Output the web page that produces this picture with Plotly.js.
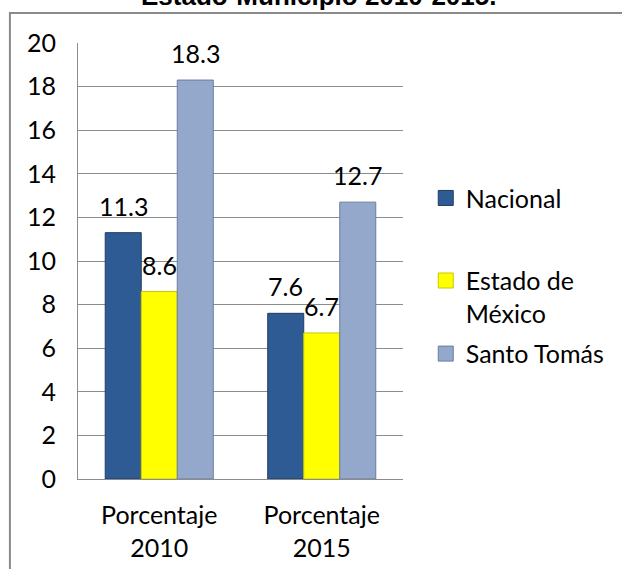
<!DOCTYPE html>
<html>
<head>
<meta charset="utf-8">
<script src="https://cdn.plot.ly/plotly-3.0.1.min.js"></script>
<style>
  html, body { margin: 0; padding: 0; background: #ffffff; }
  #chart { width: 622px; height: 569px; }
</style>
</head>
<body>
<div id="chart"></div>
<script>
// ---- data ----
const categories = ["Porcentaje<br>2010", "Porcentaje<br>2015"];
const seriesNames = ["Nacional", "Estado de<br>México", "Santo Tomás"];
const nacional = [11.3, 7.6];
const estadoMexico = [8.6, 6.7];
const santoTomas = [18.3, 12.7];
const yTicks = [0, 2, 4, 6, 8, 10, 12, 14, 16, 18, 20];
const titleText = "Estado-Municipio 2010-2015.";

// ---- styling ----
const values = [nacional, estadoMexico, santoTomas];
const fills = ["#2f5b94", "#ffff00", "#94a8cc"];
const edges = ["#1d3d66", "#c8c800", "#6a7c9e"];
const legendIds = ["legend", "legend2", "legend3"];
const FONT = "Lato, 'Open Sans', sans-serif";
const FS = 25;

const margin = {l: 78, r: 217, t: 43, b: 90};
const plotW = 622 - margin.l - margin.r;
const bargap = 0.335;
const barPx = plotW / categories.length * (1 - bargap) / values.length;

const traces = values.map((vals, i) => ({
  type: "bar",
  name: seriesNames[i],
  x: categories,
  y: vals,
  showlegend: false,
  marker: {color: fills[i], line: {color: edges[i], width: 1}},
  hoverinfo: "skip"
}));
// legend keys (larger squares than the default bar key)
values.forEach((vals, i) => {
  traces.push({
    type: "scatter", mode: "markers",
    name: seriesNames[i],
    x: [null], y: [null],
    legend: legendIds[i],
    showlegend: true,
    marker: {symbol: "square", size: 15, color: fills[i], line: {color: edges[i], width: 1}},
    hoverinfo: "skip"
  });
});

const annotations = [];
values.forEach((vals, i) => {
  vals.forEach((v, j) => {
    annotations.push({
      x: categories[j], y: v, xref: "x", yref: "y",
      text: String(v), showarrow: false,
      xanchor: "center", yanchor: "bottom",
      xshift: (i - (values.length - 1) / 2) * barPx,
      yshift: 10,
      font: {family: FONT, size: FS, color: "#000"}
    });
  });
});
annotations.push({
  x: 0.74, y: 1.108, xref: "paper", yref: "paper",
  text: "<b>" + titleText + "</b>", showarrow: false,
  xanchor: "center", yanchor: "middle",
  font: {family: "'Liberation Sans', Arial, sans-serif", size: 26, color: "#000"}
});

function legendAt(y) {
  return {
    x: 1.07, xanchor: "left", y: y, yanchor: "middle",
    bgcolor: "rgba(0,0,0,0)", borderwidth: 0,
    font: {family: FONT, size: FS, color: "#000"},
    valign: "top", itemclick: false, itemdoubleclick: false,
    itemsizing: "trace"
  };
}

const layout = {
  width: 622, height: 569,
  margin: margin,
  paper_bgcolor: "#ffffff", plot_bgcolor: "#ffffff",
  barmode: "group", bargap: bargap, bargroupgap: 0,
  showlegend: true,
  legend: legendAt(0.644),
  legend2: legendAt(0.418),
  legend3: legendAt(0.287),
  xaxis: {
    type: "category",
    showgrid: false, zeroline: false,
    showline: true, linecolor: "#8c8c8c", linewidth: 1,
    ticks: "", ticklabelstandoff: 14,
    tickfont: {family: FONT, size: FS, color: "#000"}
  },
  yaxis: {
    range: [0, 20], tickvals: yTicks, ticktext: yTicks.map(String),
    showgrid: true, gridcolor: "#8c8c8c", gridwidth: 1,
    zeroline: false,
    showline: true, linecolor: "#8c8c8c", linewidth: 1,
    ticks: "", ticklabelstandoff: 16,
    tickfont: {family: FONT, size: FS, color: "#000"}
  },
  shapes: [{
    type: "rect", xref: "paper", yref: "paper",
    x0: -0.2095, x1: 1.9, y0: -0.6, y1: 1.0688,
    line: {color: "#8a8a8a", width: 2}, fillcolor: "rgba(0,0,0,0)", layer: "below"
  }],
  annotations: annotations
};

Plotly.newPlot("chart", traces, layout, {displayModeBar: false, staticPlot: true});
</script>
</body>
</html>
